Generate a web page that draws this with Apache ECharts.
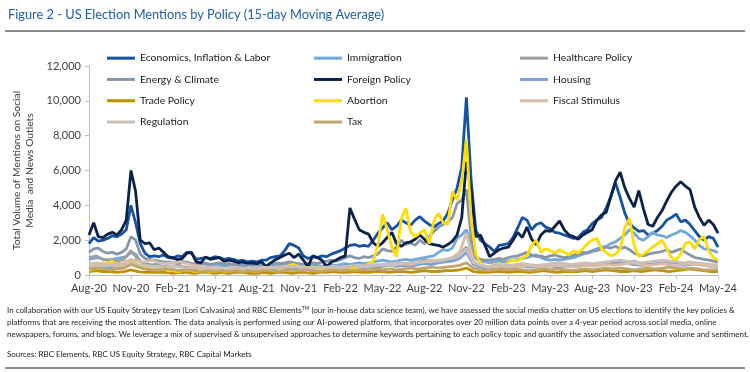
<!DOCTYPE html>
<html>
<head>
<meta charset="utf-8">
<script src="https://cdn.jsdelivr.net/npm/echarts@6/dist/echarts.min.js"></script>
<style>
html,body{margin:0;padding:0;background:#fff;}
#chart{width:750px;height:372px;}
</style>
</head>
<body>
<div id="chart"></div>
<script>
// ---- Data ----
const tickLabels = ['Aug-20','Nov-20','Feb-21','May-21','Aug-21','Nov-21','Feb-22','May-22','Aug-22','Nov-22','Feb-23','May-23','Aug-23','Nov-23','Feb-24','May-24'];
const yTicks = [0, 2000, 4000, 6000, 8000, 10000, 12000];

// main series: 3 points per month, starting Aug-20
const economics = [
1800,2150,1950,2000,2100,2250,2200,2350,2600,4000,
3000,1800,1250,1050,1100,1050,1150,1000,950,1100,
1050,1300,1250,900,950,1000,950,1050,1000,900,
950,900,800,850,750,800,750,850,850,1000,
1050,1100,1400,1800,1700,1550,1100,950,1050,1000,
1100,1050,1200,1300,1400,1550,1700,1750,1650,1700,
1650,2000,2400,2700,3000,2600,2800,3150,3000,2850,
3150,3350,3100,2900,2750,2950,3100,3550,4300,5000,
6200,10200,5500,2600,2000,1800,1600,1350,1700,1750,
1800,2150,2700,3300,3150,2600,2900,3000,2750,2650,
2450,2400,2300,2200,2100,2150,2450,2600,2950,3150,
3300,3850,4500,5300,4450,3550,2950,2700,2500,2550,
2300,2400,2550,2800,3150,3300,3500,3050,3150,2900,
2550,2200,2000,2200,2100,1600];
const immigration = [
900,950,1000,900,850,900,950,1000,1050,1300,
1200,800,650,600,600,650,700,750,700,750,
800,700,650,600,650,600,550,600,550,500,
550,600,550,500,550,600,550,500,450,500,
550,600,550,650,600,550,500,550,600,550,
500,550,600,550,600,650,600,650,700,650,
700,750,800,850,800,750,800,850,900,850,
900,950,1000,1050,1100,1300,1450,1400,1550,2100,
2300,2600,1700,950,800,750,700,750,800,750,
800,850,900,950,1000,1100,1150,1000,900,850,
900,850,900,950,1000,1100,1200,1300,1400,1500,
1600,1650,1800,1900,2100,2300,2600,2400,2100,2000,
2200,2450,2300,2250,2150,2300,2400,2550,2450,2250,
2000,1700,1500,1450,1400,1300];
const energy = [
1300,1500,1550,1350,1250,1300,1200,1300,1500,2200,
2000,1200,950,900,850,800,750,700,700,650,
700,750,650,600,650,700,600,650,700,600,
650,600,550,600,650,550,600,650,550,600,
700,650,700,750,700,650,600,650,700,650,
750,800,850,800,900,1000,1100,1000,950,1050,
1000,1100,1200,1500,1400,1350,1600,2000,1750,1850,
1700,2000,1800,2200,2500,2750,2900,3050,3300,4100,
4300,4900,2200,1050,900,850,850,900,950,900,
1000,1050,1100,1200,1300,1150,1050,1100,1000,1100,
1150,1050,1000,1050,1150,1200,1300,1250,1350,1400,
1500,1600,1550,1650,1500,1600,1450,1250,1150,1100,
1200,1250,1300,1350,1450,1300,1400,1500,1300,1150,
1000,950,900,850,800,750];
const foreign = [
2300,3000,2200,2150,2350,2450,2300,2600,3150,6000,
4800,2000,1800,1850,1450,1550,1300,1050,1000,870,
950,1250,1300,750,700,1030,900,950,1000,780,
850,800,700,750,680,700,650,780,470,700,
880,1000,1150,1250,1000,1200,850,480,1100,1000,
850,480,750,850,1000,1100,3850,3200,2600,2450,
2350,1850,1650,1850,2150,2450,1800,1650,1850,1900,
2050,2300,2050,1800,1750,1700,1600,1750,1950,2300,
3300,6500,4900,2200,2300,1700,1050,1250,1450,1550,
1600,2000,2450,2150,2750,2050,1750,2300,2550,2500,
2800,3100,2600,2300,2200,2050,2300,2450,2600,3150,
3450,3600,4500,5400,5900,5000,4400,3900,4850,3800,
2900,2800,3300,3700,4250,4750,5100,5350,5100,4900,
3900,3300,2850,3150,2900,2400];
const abortion = [
300,350,550,700,650,800,550,600,700,800,
700,450,400,350,300,300,350,250,250,200,
250,300,250,200,300,250,200,250,300,200,
250,300,250,200,300,250,200,300,350,400,
450,350,450,550,600,500,300,250,300,350,
250,300,400,350,300,400,350,400,450,500,
650,800,1700,3500,2600,1600,1050,3200,3850,2500,
2200,2400,2600,1800,3100,3550,3000,2900,4800,4300,
5400,7800,3200,1200,700,500,450,600,650,500,
750,850,800,1000,1100,1700,2000,1300,1500,1400,
1250,1450,1300,1150,1400,1250,1500,1800,2000,2100,
1500,1300,1100,1200,1500,2700,3250,1700,1050,1200,
1400,1600,1800,2000,1500,1000,850,1200,1800,1900,
1500,2050,2200,1400,1000,850];

// minor series: 2 points per month, starting Aug-20
const healthcare = [
1000,1100,900,850,800,900,1400,900,600,550,
500,500,450,500,450,400,450,400,400,350,
400,350,350,400,350,350,400,350,400,450,
500,400,350,400,400,450,450,500,450,500,
550,500,600,650,600,650,700,750,900,800,
750,800,900,1200,1600,700,500,450,450,500,
500,550,500,450,500,550,500,450,500,550,
500,550,600,650,600,700,650,700,800,650,
600,650,700,750,700,650,700,650,600,550,
550];
const housing = [
450,500,450,400,450,500,700,550,350,300,
300,350,300,250,300,250,300,250,250,300,
250,250,300,250,250,300,250,300,350,300,
350,300,250,300,350,300,350,400,350,400,
450,400,500,550,500,550,500,600,650,600,
700,750,800,950,1300,600,450,400,450,500,
450,500,550,500,450,500,550,500,450,500,
550,600,550,650,700,800,750,650,600,550,
600,650,700,650,600,550,600,650,550,500,
450];
const trade = [
200,250,200,200,150,200,300,200,150,150,
150,150,100,150,150,100,150,150,100,150,
100,150,150,100,100,150,100,150,150,100,
150,150,100,150,150,200,150,150,200,150,
150,200,200,150,200,200,150,200,250,200,
200,250,250,300,400,200,150,150,200,200,
150,200,200,150,200,250,200,150,200,200,
200,250,200,250,300,250,200,200,250,200,
250,300,250,200,250,300,350,300,250,200,
200];
const fiscal = [
650,700,650,600,650,700,900,800,750,850,
700,650,700,750,650,550,500,450,450,400,
400,450,400,350,400,450,400,450,500,450,
500,450,400,450,400,450,400,450,500,450,
500,550,600,550,600,650,600,700,750,800,
850,900,1000,1300,2400,800,550,500,450,500,
500,450,500,550,500,450,500,550,500,450,
500,550,500,550,600,550,600,650,700,600,
550,600,650,600,550,600,650,600,550,500,
450];
const regulation = [
500,550,500,550,500,550,700,600,550,500,
500,450,500,450,400,450,400,350,400,350,
350,400,350,400,350,400,450,400,450,500,
450,400,450,400,450,500,450,500,550,500,
550,600,550,650,700,650,700,750,800,850,
800,900,950,1100,1500,700,550,500,550,600,
550,600,650,600,550,600,650,700,650,600,
650,700,650,700,750,800,850,800,750,700,
750,800,850,800,750,700,750,700,650,600,
600];
const tax = [
350,400,350,300,350,400,600,450,350,300,
300,350,300,250,300,250,200,250,200,250,
200,250,200,250,200,250,250,200,250,300,
250,300,250,200,250,300,250,300,250,300,
300,350,300,350,300,350,400,350,400,450,
400,450,500,550,700,400,300,250,300,350,
300,350,300,250,300,350,300,350,300,250,
300,350,300,350,400,350,400,350,300,350,
400,350,400,450,400,350,400,350,300,300,
300];

const seriesDefs = [
  {name:'Economics, Inflation & Labor', data:economics, perMonth:3, color:'#1452a3'},
  {name:'Immigration', data:immigration, perMonth:3, color:'#72a8e0'},
  {name:'Healthcare Policy', data:healthcare, perMonth:2, color:'#9f9f9f'},
  {name:'Energy & Climate', data:energy, perMonth:3, color:'#8697ab'},
  {name:'Foreign Policy', data:foreign, perMonth:3, color:'#0c2249'},
  {name:'Housing', data:housing, perMonth:2, color:'#7d9fdc'},
  {name:'Trade Policy', data:trade, perMonth:2, color:'#bf9000'},
  {name:'Abortion', data:abortion, perMonth:3, color:'#ffdd00'},
  {name:'Fiscal Stimulus', data:fiscal, perMonth:2, color:'#d8bea6'},
  {name:'Regulation', data:regulation, perMonth:2, color:'#cbc0b7'},
  {name:'Tax', data:tax, perMonth:2, color:'#bfa66c'}
];

const FONT = 'Lato, "Open Sans", sans-serif';
const chart = echarts.init(document.getElementById('chart'), null, {renderer:'canvas'});

const series = seriesDefs.map(d => ({
  name: d.name,
  type: 'line',
  data: d.data.map((v, i) => [i / d.perMonth, v]),
  showSymbol: false,
  symbol: 'none',
  lineStyle: {width: 2.8, color: d.color},
  itemStyle: {color: d.color},
  emphasis: {disabled: true},
  animation: false
}));

function legendCol(names, left) {
  return {
    orient: 'vertical', left: left, top: 47,
    data: names, icon: 'rect', itemWidth: 28, itemHeight: 3, itemGap: 9,
    textStyle: {fontFamily: FONT, fontSize: 10.4, color: '#1a1a1a', lineHeight: 12.3},
    selectedMode: false
  };
}

const footer = [
  'In collaboration with our US Equity Strategy team (Lori Calvasina) and RBC Elements{sup|TM} (our in-house data science team), we have assessed the social media chatter on US elections to identify the key policies &',
  'platforms that are receiving the most attention. The data analysis is performed using our AI-powered platform, that incorporates over 20 million data points over a 4-year period across social media, online',
  'newspapers, forums, and blogs. We leverage a mix of supervised & unsupervised approaches to determine keywords pertaining to each policy topic and quantify the associated conversation volume and sentiment.'
];

const option = {
  animation: false,
  backgroundColor: '#ffffff',
  grid: {left: 89, right: 32, top: 66, bottom: 97, containLabel: false},
  xAxis: {
    type: 'value', min: 0, max: 45, interval: 3,
    axisLine: {show: true, lineStyle: {color: '#bfbfbf', width: 1}},
    axisTick: {show: true, length: 4, lineStyle: {color: '#bfbfbf'}},
    splitLine: {show: false},
    axisLabel: {
      formatter: v => tickLabels[Math.round(v / 3)],
      fontFamily: FONT, fontSize: 11, color: '#404040', margin: 8
    }
  },
  yAxis: {
    type: 'value', min: 0, max: 12000, interval: 2000,
    name: 'Total Volume of Mentions on Social\nMedia  and News Outlets',
    nameLocation: 'middle', nameRotate: 90, nameGap: 50,
    nameTextStyle: {fontFamily: FONT, fontSize: 10.3, color: '#404040', lineHeight: 13},
    axisLine: {show: true, lineStyle: {color: '#bfbfbf', width: 1}},
    axisTick: {show: true, length: 4, lineStyle: {color: '#bfbfbf'}},
    splitLine: {show: false},
    axisLabel: {
      formatter: v => v.toLocaleString('en-US'),
      fontFamily: FONT, fontSize: 11, color: '#404040', margin: 8
    }
  },
  legend: [
    legendCol(['Economics, Inflation & Labor','Energy & Climate','Trade Policy','Regulation'], 102),
    legendCol(['Immigration','Foreign Policy','Abortion','Tax'], 309),
    legendCol(['Healthcare Policy','Housing','Fiscal Stimulus'], 515)
  ],
  graphic: [
    {type: 'text', left: 8, top: 8, style: {text: 'Figure 2 - US Election Mentions by Policy (15-day Moving Average)', font: '12.8px ' + FONT, fill: '#2160aa'}},
    {type: 'rect', left: 5, top: 30, shape: {width: 740, height: 2}, style: {fill: '#8c8c8c'}},
    {type: 'text', left: 7, top: 306, style: {text: footer[0], font: '8px ' + FONT, fill: '#222', rich: {sup: {fontSize: 5, verticalAlign: 'top', fill: '#222', fontFamily: 'Lato'}}}},
    {type: 'text', left: 7, top: 318, style: {text: footer[1], font: '8px ' + FONT, fill: '#222'}},
    {type: 'text', left: 7, top: 330, style: {text: footer[2], font: '8px ' + FONT, fill: '#222'}},
    {type: 'text', left: 7, top: 350, style: {text: 'Sources: RBC Elements, RBC US Equity Strategy, RBC Capital Markets', font: '8px ' + FONT, fill: '#222'}},
    {type: 'rect', left: 5, top: 367, shape: {width: 740, height: 2}, style: {fill: '#8c8c8c'}}
  ],
  series: series
};
chart.setOption(option);
</script>
</body>
</html>
